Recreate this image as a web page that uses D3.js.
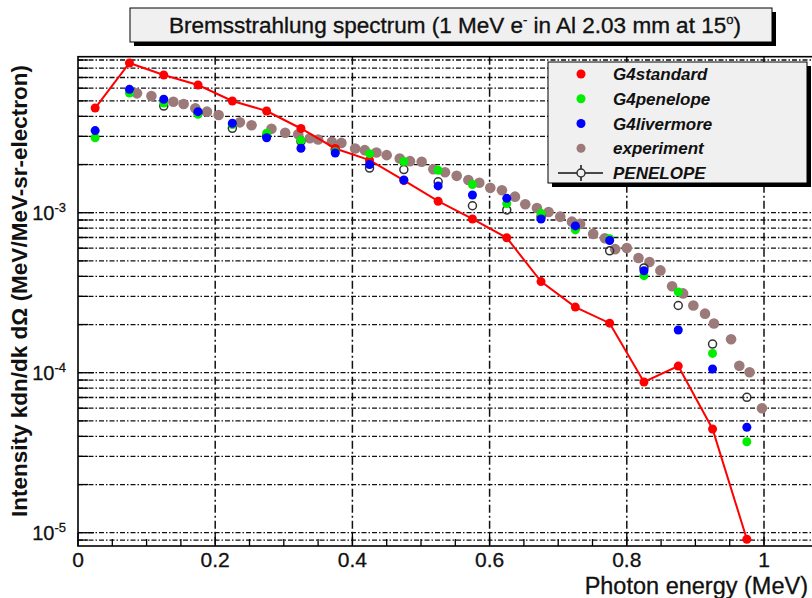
<!DOCTYPE html>
<html>
<head>
<meta charset="utf-8">
<script src="https://cdn.jsdelivr.net/npm/d3@7"></script>
<style>
  body { margin: 0; background: #fff; }
  svg { display: block; font-family: "Liberation Sans", Arial, Helvetica, sans-serif; }
</style>
</head>
<body>
<svg id="chart" width="812" height="598"></svg>
<script>
// Bin centres (MeV) shared by the three Geant4 models
const energies = [0.025, 0.075, 0.125, 0.175, 0.225, 0.275, 0.325, 0.375, 0.425, 0.475,
                  0.525, 0.575, 0.625, 0.675, 0.725, 0.775, 0.825, 0.875, 0.925, 0.975];

const g4standard = [4.51e-3, 8.62e-3, 7.25e-3, 6.28e-3, 4.99e-3, 4.32e-3, 3.36e-3, 2.52e-3, 2.13e-3, 1.59e-3,
                    1.18e-3, 9.14e-4, 6.97e-4, 3.71e-4, 2.57e-4, 2.04e-4, 8.75e-5, 1.10e-4, 4.45e-5, 9.1e-6];

const g4penelope = [2.94e-3, 5.60e-3, 4.85e-3, 4.12e-3, 3.56e-3, 3.14e-3, 2.83e-3, 2.40e-3, 2.34e-3, 2.09e-3,
                    1.84e-3, 1.50e-3, 1.14e-3, 9.91e-4, 7.81e-4, 6.87e-4, 4.04e-4, 3.20e-4, 1.32e-4, 3.70e-5];

const g4livermore = [3.26e-3, 5.90e-3, 5.12e-3, 4.28e-3, 3.62e-3, 2.94e-3, 2.53e-3, 2.36e-3, 2.00e-3, 1.60e-3,
                     1.47e-3, 1.29e-3, 1.23e-3, 9.14e-4, 8.27e-4, 6.70e-4, 4.34e-4, 1.85e-4, 1.055e-4, 4.56e-5];

// PENELOPE reference calculation
const penelopeE = [0.125, 0.175, 0.225, 0.275, 0.325, 0.375, 0.425, 0.475, 0.525,
                   0.575, 0.625, 0.675, 0.725, 0.775, 0.825, 0.875, 0.925, 0.975];
const penelope  = [4.64e-3, 4.20e-3, 3.37e-3, 3.02e-3, 2.79e-3, 2.47e-3, 1.90e-3, 1.86e-3, 1.56e-3,
                   1.105e-3, 1.04e-3, 9.45e-4, 8.03e-4, 5.78e-4, 4.52e-4, 2.63e-4, 1.51e-4, 7.02e-5];

// Measured spectrum
const experimentE = [0.086, 0.107, 0.139, 0.154, 0.171, 0.188, 0.205, 0.236, 0.253, 0.282,
                     0.302, 0.321, 0.338, 0.350, 0.370, 0.384, 0.404, 0.418, 0.435, 0.450,
                     0.469, 0.484, 0.501, 0.518, 0.535, 0.552, 0.569, 0.585, 0.601, 0.618,
                     0.637, 0.652, 0.669, 0.686, 0.703, 0.720, 0.732, 0.751, 0.768, 0.783,
                     0.800, 0.817, 0.833, 0.849, 0.866, 0.882, 0.897, 0.914, 0.927, 0.952,
                     0.964, 0.979, 0.997];
const experiment  = [5.57e-3, 5.36e-3, 4.94e-3, 4.78e-3, 4.49e-3, 4.28e-3, 4.08e-3, 3.67e-3, 3.52e-3, 3.35e-3,
                     3.16e-3, 3.09e-3, 2.92e-3, 2.87e-3, 2.77e-3, 2.73e-3, 2.52e-3, 2.46e-3, 2.38e-3, 2.29e-3,
                     2.18e-3, 2.10e-3, 2.08e-3, 1.87e-3, 1.79e-3, 1.70e-3, 1.60e-3, 1.54e-3, 1.43e-3, 1.38e-3,
                     1.26e-3, 1.13e-3, 1.07e-3, 1.01e-3, 9.45e-4, 8.79e-4, 8.51e-4, 7.37e-4, 6.93e-4, 5.92e-4,
                     6.01e-4, 5.21e-4, 4.92e-4, 4.36e-4, 3.47e-4, 3.13e-4, 2.63e-4, 2.34e-4, 2.03e-4, 1.62e-4,
                     1.106e-4, 1.006e-4, 5.99e-5];

const xMajorTicks = [0, 0.2, 0.4, 0.6, 0.8, 1];
const xTickLabels = ["0", "0.2", "0.4", "0.6", "0.8", "1"];
const yLabelDecades = [1e-5, 1e-4, 1e-3];
const yLabelExponents = ["-5", "-4", "-3"];

const legendItems = [
  { label: "G4standard",  color: "#ff0000", kind: "dot" },
  { label: "G4penelope",  color: "#00ee00", kind: "dot" },
  { label: "G4livermore", color: "#0000ff", kind: "dot" },
  { label: "experiment",  color: "#9c7a7a", kind: "dot" },
  { label: "PENELOPE",    color: "#222",    kind: "line" }
];

const svg = d3.select("#chart");
const frame = { left: 78, top: 56.7, right: 830, bottom: 546 };

const x = d3.scaleLinear().domain([0, 1]).range([78, 764]);
const y = d3.scaleLog().domain([8.26e-6, 9.44e-3]).range([frame.bottom, frame.top]);

svg.append("defs").append("clipPath").attr("id", "plotClip")
  .append("rect")
  .attr("x", frame.left).attr("y", frame.top)
  .attr("width", frame.right - frame.left).attr("height", frame.bottom - frame.top);

// ---- grid ----
const grid = svg.append("g").attr("clip-path", "url(#plotClip)");
const yGridValues = y.ticks().filter(v => v >= y.domain()[0] && v <= y.domain()[1]);
grid.selectAll("line.hgrid").data(yGridValues).join("line")
  .attr("class", "hgrid")
  .attr("x1", frame.left).attr("x2", frame.right)
  .attr("y1", d => y(d)).attr("y2", d => y(d))
  .attr("stroke", "#111").attr("stroke-width", 1.3)
  .attr("stroke-dasharray", "5,2,1.5,2");
grid.selectAll("line.vgrid").data(xMajorTicks.filter(d => d > 0)).join("line")
  .attr("class", "vgrid")
  .attr("x1", d => x(d)).attr("x2", d => x(d))
  .attr("y1", frame.top).attr("y2", frame.bottom)
  .attr("stroke", "#111").attr("stroke-width", 1.5)
  .attr("stroke-dasharray", "8,3,2,3");

// ---- data ----
const plot = svg.append("g").attr("clip-path", "url(#plotClip)");

plot.selectAll("circle.exp").data(experimentE).join("circle")
  .attr("class", "exp")
  .attr("cx", d => x(d)).attr("cy", (d, i) => y(experiment[i]))
  .attr("r", 5.3).attr("fill", "#9c7a7a");

plot.selectAll("circle.pen").data(penelopeE).join("circle")
  .attr("class", "pen")
  .attr("cx", d => x(d)).attr("cy", (d, i) => y(penelope[i]))
  .attr("r", 4).attr("fill", "none").attr("stroke", "#333").attr("stroke-width", 1.5);

const stdLine = d3.line().x((d, i) => x(energies[i])).y(d => y(d));
plot.append("path").datum(g4standard)
  .attr("d", stdLine).attr("fill", "none")
  .attr("stroke", "#ff0000").attr("stroke-width", 2);
plot.selectAll("circle.std").data(g4standard).join("circle")
  .attr("class", "std")
  .attr("cx", (d, i) => x(energies[i])).attr("cy", d => y(d))
  .attr("r", 4.5).attr("fill", "#ff0000");

plot.selectAll("circle.g4pen").data(g4penelope).join("circle")
  .attr("class", "g4pen")
  .attr("cx", (d, i) => x(energies[i])).attr("cy", d => y(d))
  .attr("r", 4.5).attr("fill", "#00ee00");

plot.selectAll("circle.liv").data(g4livermore).join("circle")
  .attr("class", "liv")
  .attr("cx", (d, i) => x(energies[i])).attr("cy", d => y(d))
  .attr("r", 4.5).attr("fill", "#0000ff");

// ---- frame & ticks ----
const axes = svg.append("g");
axes.append("rect")
  .attr("x", frame.left).attr("y", frame.top)
  .attr("width", frame.right - frame.left).attr("height", frame.bottom - frame.top)
  .attr("fill", "none").attr("stroke", "#000").attr("stroke-width", 1.6);

const xMinor = d3.range(0, 21).map(i => i * 0.05);
axes.selectAll("line.xt").data(xMinor).join("line")
  .attr("class", "xt")
  .attr("x1", d => x(d)).attr("x2", d => x(d))
  .attr("y1", frame.bottom)
  .attr("y2", (d, i) => frame.bottom - (i % 4 === 0 ? 13 : 7))
  .attr("stroke", "#000").attr("stroke-width", 1.3);

axes.selectAll("line.yt").data(yGridValues).join("line")
  .attr("class", "yt")
  .attr("y1", d => y(d)).attr("y2", d => y(d))
  .attr("x1", frame.left)
  .attr("x2", d => frame.left + (Math.abs(Math.log10(d) - Math.round(Math.log10(d))) < 1e-9 ? 16 : 10))
  .attr("stroke", "#000").attr("stroke-width", 1.3);

// x tick labels
axes.selectAll("text.xl").data(xMajorTicks).join("text")
  .attr("class", "xl")
  .attr("x", d => x(d)).attr("y", 567)
  .attr("text-anchor", "middle")
  .attr("font-size", 21).attr("fill", "#111")
  .attr("stroke", "#111").attr("stroke-width", 0.3)
  .text((d, i) => xTickLabels[i]);

// y tick labels (powers of ten)
yLabelDecades.forEach((v, i) => {
  const t = axes.append("text")
    .attr("x", 66).attr("y", y(v) + 7)
    .attr("text-anchor", "end")
    .attr("font-size", 20).attr("fill", "#111")
    .attr("stroke", "#111").attr("stroke-width", 0.3);
  t.append("tspan").text("10");
  t.append("tspan").attr("dy", -8).attr("font-size", 13).text(yLabelExponents[i]);
});

// axis titles
axes.append("text")
  .attr("x", 808).attr("y", 594)
  .attr("text-anchor", "end")
  .attr("font-size", 23.5).attr("fill", "#111")
  .attr("stroke", "#111").attr("stroke-width", 0.3)
  .text("Photon energy (MeV)");

axes.append("text")
  .attr("transform", "translate(27,291) rotate(-90)")
  .attr("text-anchor", "middle")
  .attr("font-size", 22.5).attr("font-weight", "bold").attr("fill", "#111")
  .text("Intensity kdn/dk d\u03A9 (MeV/MeV-sr-electron)");

// ---- legend ----
const lg = svg.append("g");
lg.append("rect").attr("x", 552).attr("y", 66).attr("width", 259).attr("height", 121).attr("fill", "#000");
lg.append("rect").attr("x", 548).attr("y", 62).attr("width", 259).attr("height", 121)
  .attr("fill", "#f0f0f0").attr("stroke", "#000").attr("stroke-width", 1);
legendItems.forEach((it, i) => {
  const cy = 74 + i * 24.75;
  if (it.kind === "dot") {
    lg.append("circle").attr("cx", 581).attr("cy", cy).attr("r", 4.5).attr("fill", it.color);
  } else {
    lg.append("line").attr("x1", 558).attr("x2", 603).attr("y1", cy).attr("y2", cy)
      .attr("stroke", "#111").attr("stroke-width", 1.5);
    lg.append("line").attr("x1", 581).attr("x2", 581).attr("y1", cy - 8).attr("y2", cy + 8)
      .attr("stroke", "#111").attr("stroke-width", 1.5);
    lg.append("circle").attr("cx", 581).attr("cy", cy).attr("r", 4)
      .attr("fill", "#f0f0f0").attr("stroke", "#333").attr("stroke-width", 1.5);
  }
  lg.append("text").attr("x", 613).attr("y", cy + 6)
    .attr("font-size", 17).attr("font-weight", "bold").attr("font-style", "italic")
    .attr("fill", "#111").text(it.label);
});

// ---- title ----
const tg = svg.append("g");
tg.append("rect").attr("x", 134).attr("y", 12).attr("width", 642).attr("height", 34).attr("fill", "#000");
tg.append("rect").attr("x", 130).attr("y", 8).attr("width", 642).attr("height", 34)
  .attr("fill", "#f0f0f0").attr("stroke", "#000").attr("stroke-width", 1);
const title = tg.append("text").attr("x", 455).attr("y", 33)
  .attr("text-anchor", "middle").attr("font-size", 22.5).attr("fill", "#111")
  .attr("stroke", "#111").attr("stroke-width", 0.35);
title.append("tspan").text("Bremsstrahlung spectrum (1 MeV e");
title.append("tspan").attr("dy", -9).attr("font-size", 13).text("-");
title.append("tspan").attr("dy", 9).text(" in Al 2.03 mm at 15");
title.append("tspan").attr("dy", -9).attr("font-size", 13).text("o");
title.append("tspan").attr("dy", 9).text(")");
</script>
</body>
</html>
